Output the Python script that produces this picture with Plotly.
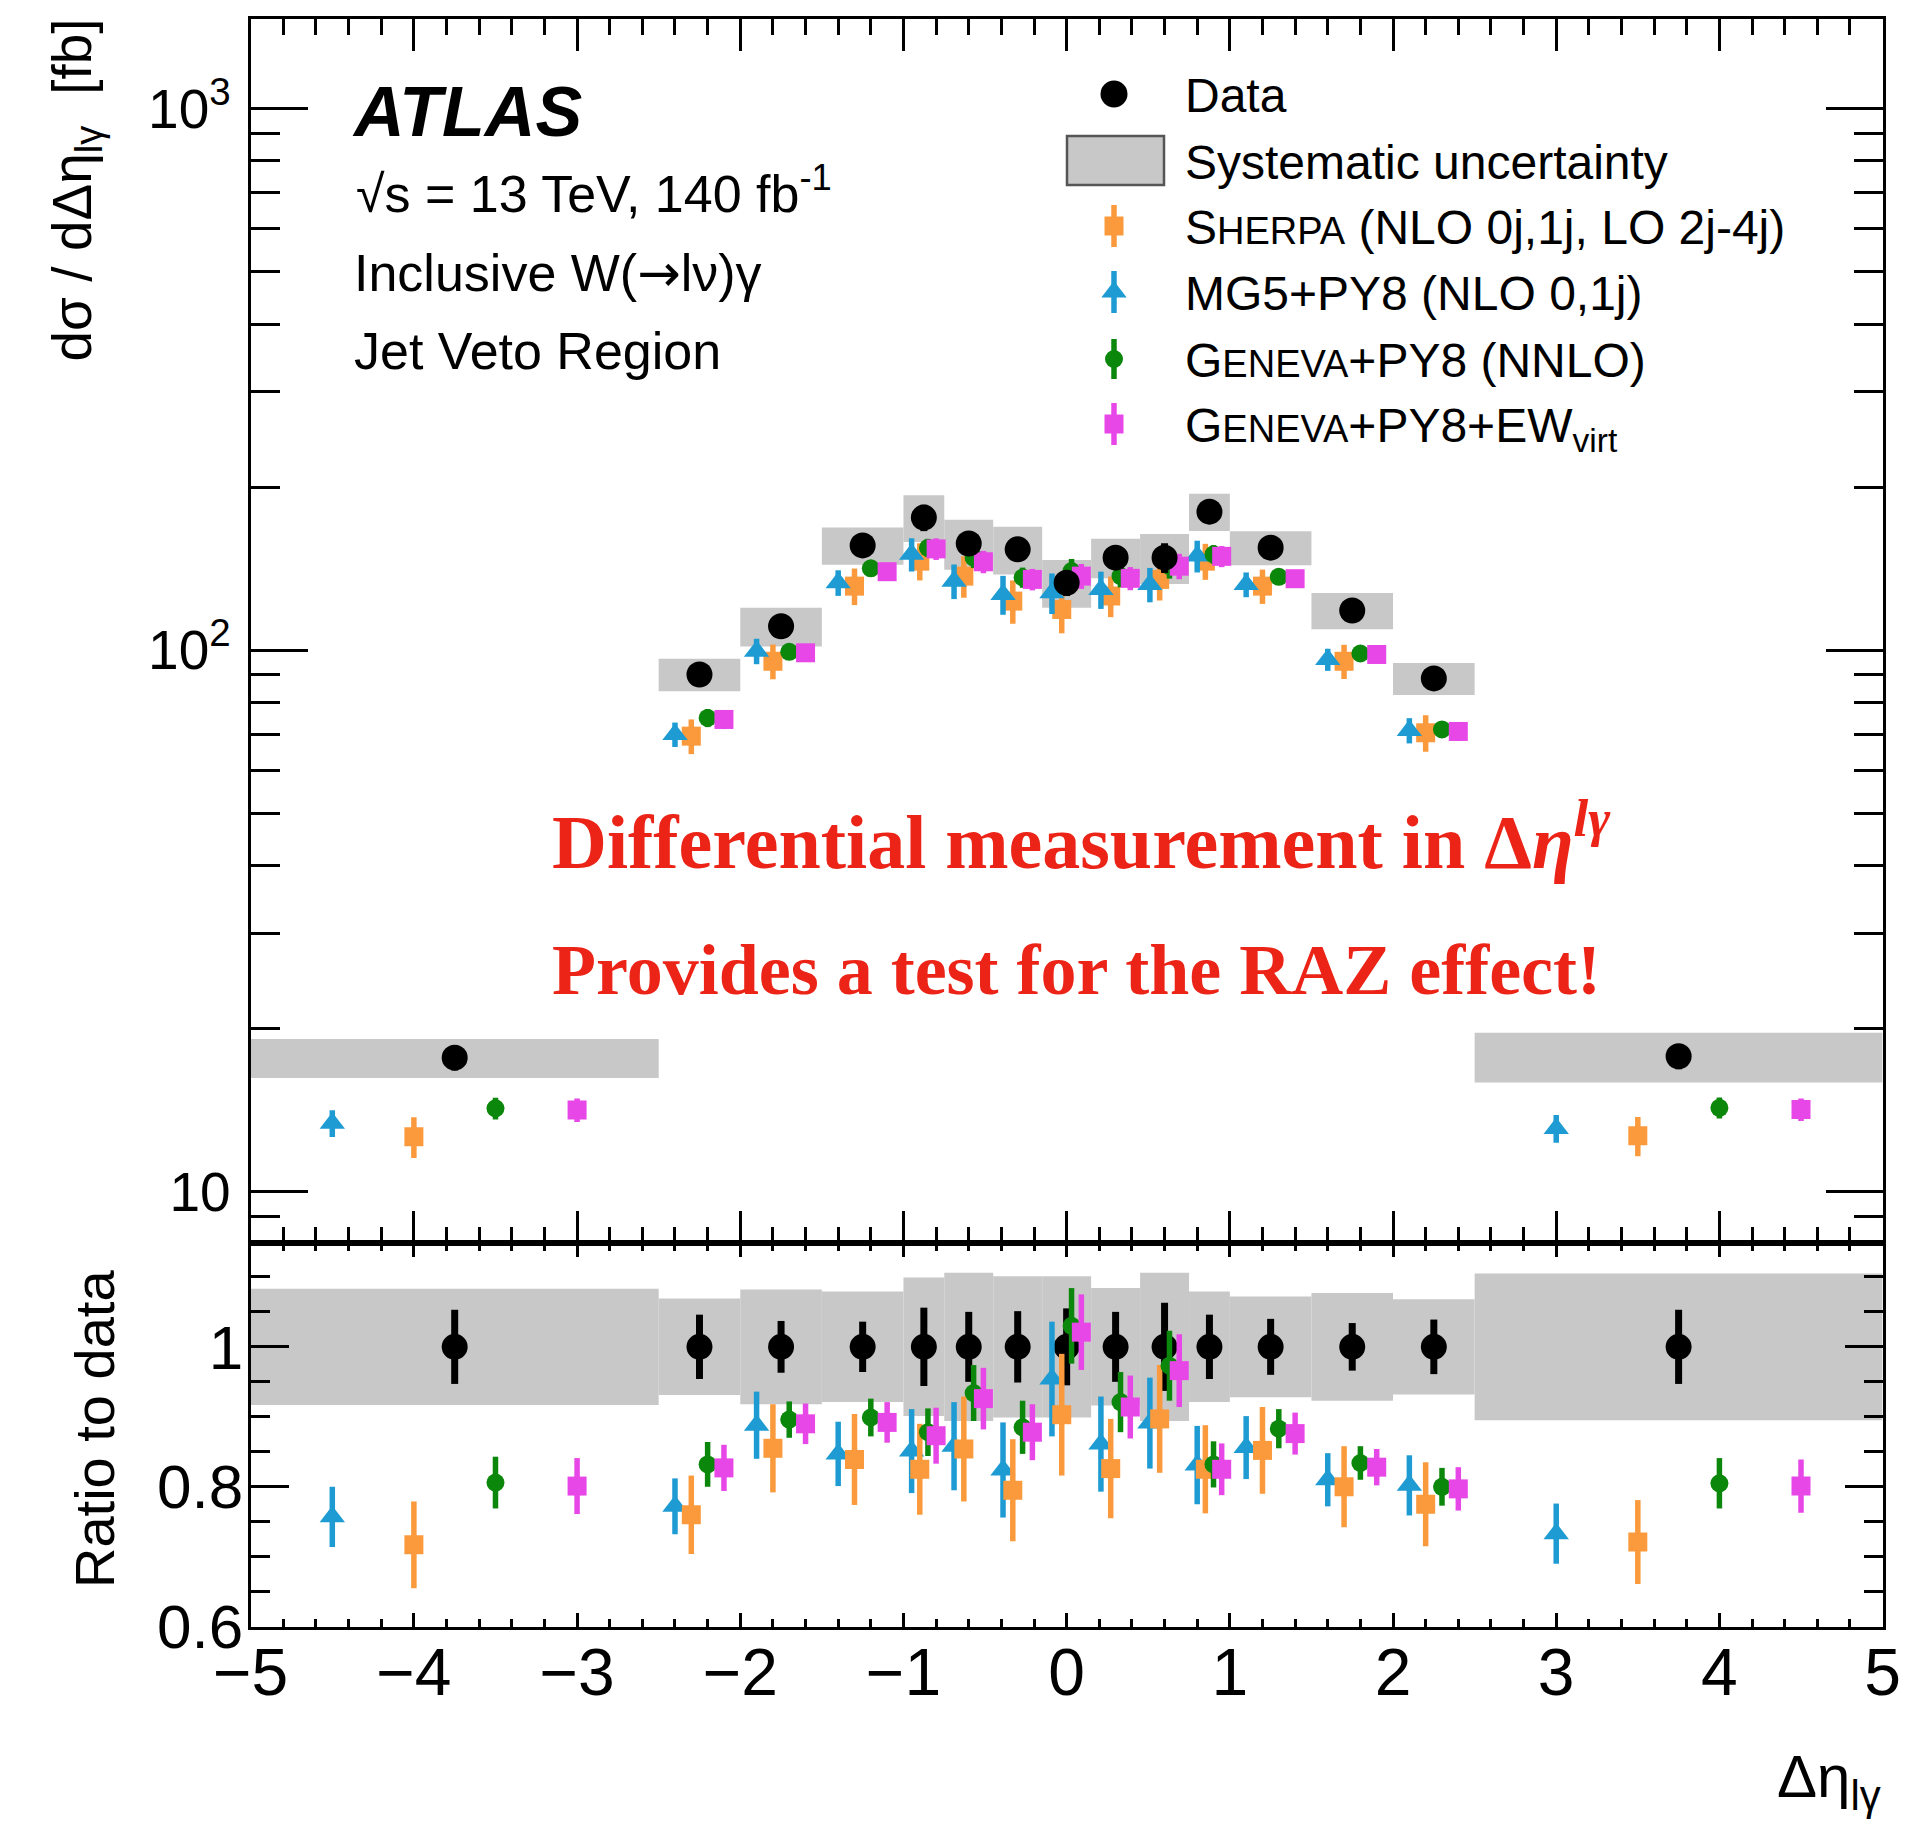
import plotly.graph_objects as go

# ------------------------------------------------------------------ data
bin_edges = [-5.0, -2.5, -2.0, -1.5, -1.0, -0.75, -0.45, -0.15, 0.15, 0.45, 0.75, 1.0, 1.5, 2.0, 2.5, 5.0]

# measured cross section [fb] and relative uncertainties
data_xsec = [17.7, 90.2, 110.7, 156.1, 175.7, 157.4, 153.5, 133.2, 148.2, 148.2, 180.2, 154.6, 118.4, 88.7, 17.8]
data_stat = [0.053, 0.046, 0.037, 0.036, 0.056, 0.050, 0.051, 0.055, 0.050, 0.063, 0.046, 0.040, 0.034, 0.039, 0.053]
data_syst = [0.083, 0.069, 0.082, 0.079, 0.099, 0.106, 0.101, 0.101, 0.084, 0.106, 0.079, 0.072, 0.077, 0.068, 0.105]

# predictions (upper panel) [fb]
sherpa_xsec = [12.65, 69.4, 95.4, 131.3, 146.0, 137.0, 123.2, 118.9, 125.9, 135.1, 146.0, 131.3, 95.4, 70.4, 12.7]
mg5_xsec = [13.4, 69.9, 99.6, 133.2, 150.3, 134.1, 126.7, 127.6, 129.4, 132.2, 149.2, 132.2, 96.1, 71.1, 13.1]
geneva_xsec = [14.27, 75.0, 99.3, 141.6, 154.5, 148.2, 136.2, 140.0, 137.0, 142.9, 150.3, 136.6, 98.6, 71.4, 14.3]
genew_xsec = [14.17, 74.5, 98.9, 139.6, 153.8, 145.6, 135.1, 137.0, 135.7, 142.9, 149.0, 135.5, 98.2, 70.8, 14.2]

# ratio to data (lower panel) and their uncertainties
sherpa_ratio = [0.717, 0.760, 0.855, 0.839, 0.825, 0.854, 0.795, 0.903, 0.826, 0.897, 0.825, 0.852, 0.800, 0.775, 0.721]
sherpa_rerr = [0.062, 0.056, 0.063, 0.065, 0.065, 0.075, 0.073, 0.087, 0.071, 0.077, 0.063, 0.062, 0.058, 0.060, 0.060]
mg5_ratio = [0.757, 0.772, 0.888, 0.847, 0.851, 0.858, 0.824, 0.954, 0.861, 0.891, 0.831, 0.856, 0.810, 0.802, 0.733]
mg5_rerr = [0.043, 0.040, 0.048, 0.046, 0.060, 0.063, 0.068, 0.082, 0.068, 0.065, 0.056, 0.045, 0.038, 0.043, 0.043]
geneva_ratio = [0.806, 0.832, 0.896, 0.899, 0.878, 0.934, 0.885, 1.030, 0.921, 0.973, 0.832, 0.883, 0.834, 0.800, 0.805]
geneva_rerr = [0.037, 0.032, 0.026, 0.027, 0.034, 0.040, 0.038, 0.054, 0.043, 0.050, 0.033, 0.028, 0.024, 0.027, 0.036]
genew_ratio = [0.801, 0.827, 0.890, 0.892, 0.873, 0.926, 0.878, 1.021, 0.914, 0.966, 0.825, 0.876, 0.828, 0.797, 0.801]
genew_rerr = [0.040, 0.033, 0.029, 0.029, 0.040, 0.044, 0.040, 0.054, 0.045, 0.052, 0.037, 0.030, 0.026, 0.031, 0.038]

x_ticks = [-5, -4, -3, -2, -1, 0, 1, 2, 3, 4, 5]
x_ticktext = ["−5", "−4", "−3", "−2", "−1", "0", "1", "2", "3", "4", "5"]
main_y_tickvals = [10, 100, 1000]
main_y_ticktext = ["10", "10<sup>2</sup>", "10<sup>3</sup>"]
main_y_minor = [9, 20, 30, 40, 50, 60, 70, 80, 90, 200, 300, 400, 500, 600, 700, 800, 900]
ratio_y_tickvals = [0.6, 0.8, 1.0]
ratio_y_ticktext = ["0.6", "0.8", "1"]

legend_labels = [
    "Data",
    "Systematic uncertainty",
    "S<span style=\"font-size:38px\">HERPA</span> (NLO 0j,1j, LO 2j-4j)",
    "MG5+PY8 (NLO 0,1j)",
    "G<span style=\"font-size:38px\">ENEVA</span>+PY8 (NNLO)",
    "G<span style=\"font-size:38px\">ENEVA</span>+PY8+EW<sub>virt</sub>",
]

# ------------------------------------------------------------------ styling
W, H = 1907, 1830
FONT = "Liberation Sans, Arial, Helvetica, sans-serif"
SERIF = "Liberation Serif, Times New Roman, serif"
C_BAND = "#C8C8C8"
C_SHERPA = "#FA9A3C"
C_MG5 = "#1E9BD2"
C_GENEVA = "#0B870B"
C_GENEW = "#E847E8"
C_RED = "#EC2418"

X_DOM = [250.7 / W, 1882.6 / W]
MAIN_DOM = [1 - 1243.3 / H, 1 - 19.0 / H]
RATIO_DOM = [1 - 1626.7 / H, 1 - 1243.3 / H]


def px(x):
    return x / W


def py(y):
    return 1 - y / H


centers = [(a + b) / 2 for a, b in zip(bin_edges[:-1], bin_edges[1:])]
widths = [b - a for a, b in zip(bin_edges[:-1], bin_edges[1:])]


def shifted(frac):
    return [c + frac * w for c, w in zip(centers, widths)]


models = [
    # name, xsec, ratio, rerr, colour, symbol, size, x-offset fraction
    ("Sherpa", sherpa_xsec, sherpa_ratio, sherpa_rerr, C_SHERPA, "square", 19, -0.1),
    ("MG5", mg5_xsec, mg5_ratio, mg5_rerr, C_MG5, "triangle-up", 22, -0.3),
    ("Geneva", geneva_xsec, geneva_ratio, geneva_rerr, C_GENEVA, "circle", 18, 0.1),
    ("GenevaEW", genew_xsec, genew_ratio, genew_rerr, C_GENEW, "square", 19, 0.3),
]

fig = go.Figure()

# ---------------- upper panel
fig.add_trace(go.Bar(
    x=centers, width=widths,
    base=[d * (1 - s) for d, s in zip(data_xsec, data_syst)],
    y=[2 * d * s for d, s in zip(data_xsec, data_syst)],
    marker=dict(color=C_BAND, line=dict(width=0)),
    xaxis="x", yaxis="y", showlegend=False, hoverinfo="skip",
))
for name, xs, rt, er, col, sym, size, frac in models:
    fig.add_trace(go.Scatter(
        x=shifted(frac), y=xs, mode="markers",
        marker=dict(symbol=sym, size=size, color=col, line=dict(width=0)),
        error_y=dict(type="data", array=[v * e / r for v, e, r in zip(xs, er, rt)],
                     color=col, thickness=5.5, width=0),
        xaxis="x", yaxis="y", showlegend=False, name=name,
    ))
fig.add_trace(go.Scatter(
    x=centers, y=data_xsec, mode="markers",
    marker=dict(symbol="circle", size=26, color="black"),
    error_y=dict(type="data", array=[d * s for d, s in zip(data_xsec, data_stat)],
                 color="black", thickness=7, width=0),
    xaxis="x", yaxis="y", showlegend=False, name="Data",
))

# ---------------- ratio panel
fig.add_trace(go.Bar(
    x=centers, width=widths,
    base=[1 - s for s in data_syst],
    y=[2 * s for s in data_syst],
    marker=dict(color=C_BAND, line=dict(width=0)),
    xaxis="x2", yaxis="y2", showlegend=False, hoverinfo="skip",
))
fig.add_trace(go.Scatter(
    x=centers, y=[1.0] * len(centers), mode="markers",
    marker=dict(symbol="circle", size=26, color="black"),
    error_y=dict(type="data", array=data_stat, color="black", thickness=7, width=0),
    xaxis="x2", yaxis="y2", showlegend=False,
))
for name, xs, rt, er, col, sym, size, frac in [models[1], models[0], models[2], models[3]]:
    fig.add_trace(go.Scatter(
        x=shifted(frac), y=rt, mode="markers",
        marker=dict(symbol=sym, size=size, color=col, line=dict(width=0)),
        error_y=dict(type="data", array=er, color=col, thickness=5.5, width=0),
        xaxis="x2", yaxis="y2", showlegend=False,
    ))

# ---------------- hand-drawn legend (overlay axis in pixel units)
LEG_X = 1114
LEG_TEXT_X = 1184
leg_y = [94, 160.5, 226, 292, 359, 424]
leg_styles = [
    ("circle", 27, "black", 0),
    None,
    ("square", 19, C_SHERPA, 21),
    ("triangle-up", 22, C_MG5, 21),
    ("circle", 18, C_GENEVA, 20),
    ("square", 19, C_GENEW, 21),
]
for yy, st in zip(leg_y, leg_styles):
    if st is None:
        continue
    sym, size, col, eb = st
    fig.add_trace(go.Scatter(
        x=[LEG_X], y=[yy], mode="markers",
        marker=dict(symbol=sym, size=size, color=col, line=dict(width=0)),
        error_y=dict(type="data", array=[eb], color=col, thickness=5.5, width=0, visible=eb > 0),
        xaxis="x3", yaxis="y3", showlegend=False, hoverinfo="skip",
    ))

shapes = [dict(
    type="rect", xref="paper", yref="paper",
    x0=px(1067), x1=px(1164), y0=py(185), y1=py(136),
    fillcolor=C_BAND, line=dict(color="#555555", width=2.5), layer="above",
)]

annotations = []


def ann(text, x, y, size, xanchor="left", yanchor="bottom", angle=0, color="black", family=FONT):
    annotations.append(dict(
        text=text, x=px(x), y=py(y), xref="paper", yref="paper",
        xanchor=xanchor, yanchor=yanchor, showarrow=False, textangle=angle,
        font=dict(size=size, color=color, family=family), borderpad=0,
    ))


for yy, lab in zip(leg_y, legend_labels):
    ann(lab, LEG_TEXT_X, yy - 26, 48, yanchor="top")

ARROW = "<span style=\"font-family:DejaVu Sans\">→</span>"
ann("<b><i>ATLAS</i></b>", 351, 152, 70)
ann("√s = 13 TeV, 140 fb<sup>-1</sup>", 355, 224, 52)
ann("Inclusive W(" + ARROW + "lν)γ", 353, 304, 52)
ann("Jet Veto Region", 353, 381, 52)

ann("<b>Differential measurement in Δ<i>η</i><sup><i>lγ</i></sup></b>", 551, 885, 76,
    color=C_RED, family=SERIF)
ann("<b>Provides a test for the RAZ effect!</b>", 551, 1011, 72, color=C_RED, family=SERIF)

ann("dσ / dΔη<sub>lγ</sub>  [fb]", 76, 18, 55, xanchor="center", yanchor="top", angle=-90)
ann("Ratio to data", 94, 1429, 56, xanchor="center", yanchor="middle", angle=-90)
ann("Δη<sub>lγ</sub>", 1882, 1742, 60, xanchor="right", yanchor="top")

axis_common = dict(showline=True, linewidth=3, linecolor="black", mirror="allticks",
                   showgrid=False, zeroline=False, ticks="inside", tickcolor="black",
                   tickwidth=3, automargin=False)

fig.update_layout(
    template="none",
    width=W, height=H,
    margin=dict(l=0, r=0, t=0, b=0, pad=0, autoexpand=False),
    paper_bgcolor="white", plot_bgcolor="rgba(0,0,0,0)",
    barmode="overlay", showlegend=False,
    font=dict(family=FONT, color="black"),
    xaxis=dict(domain=X_DOM, anchor="y", range=[-5, 5], tickvals=x_ticks,
               showticklabels=False, ticklen=32,
               minor=dict(ticks="inside", ticklen=16, dtick=0.2, tick0=0, tickwidth=3,
                          tickcolor="black", showgrid=False),
               **axis_common),
    yaxis=dict(domain=MAIN_DOM, anchor="x", type="log", range=[0.9053, 3.165],
               tickvals=main_y_tickvals, ticktext=main_y_ticktext, ticklen=57,
               tickfont=dict(size=55, family=FONT, color="black"), ticklabelstandoff=6,
               minor=dict(ticks="inside", ticklen=29, tickwidth=3, tickcolor="black",
                          tickvals=main_y_minor, showgrid=False),
               **axis_common),
    xaxis2=dict(domain=X_DOM, anchor="y2", range=[-5, 5], tickvals=x_ticks,
                ticktext=x_ticktext, ticklabelstandoff=-14,
                ticklen=14, tickfont=dict(size=66, family=FONT, color="black"),
                minor=dict(ticks="inside", ticklen=8, dtick=0.2, tick0=0, tickwidth=3,
                           tickcolor="black", showgrid=False),
                **axis_common),
    yaxis2=dict(domain=RATIO_DOM, anchor="x2", range=[0.6, 1.148],
                tickvals=ratio_y_tickvals, ticktext=ratio_y_ticktext, ticklen=38,
                tickfont=dict(size=62, family=FONT, color="black"), ticklabelstandoff=-8,
                minor=dict(ticks="inside", ticklen=19, dtick=0.05, tick0=0, tickwidth=3,
                           tickcolor="black", showgrid=False),
                **axis_common),
    xaxis3=dict(domain=[0, 1], anchor="y3", range=[0, W], visible=False, fixedrange=True,
                automargin=False),
    yaxis3=dict(domain=[0, 1], anchor="x3", range=[H, 0], visible=False, fixedrange=True,
                automargin=False),
    shapes=shapes,
    annotations=annotations,
)

fig.write_html("out.html")
